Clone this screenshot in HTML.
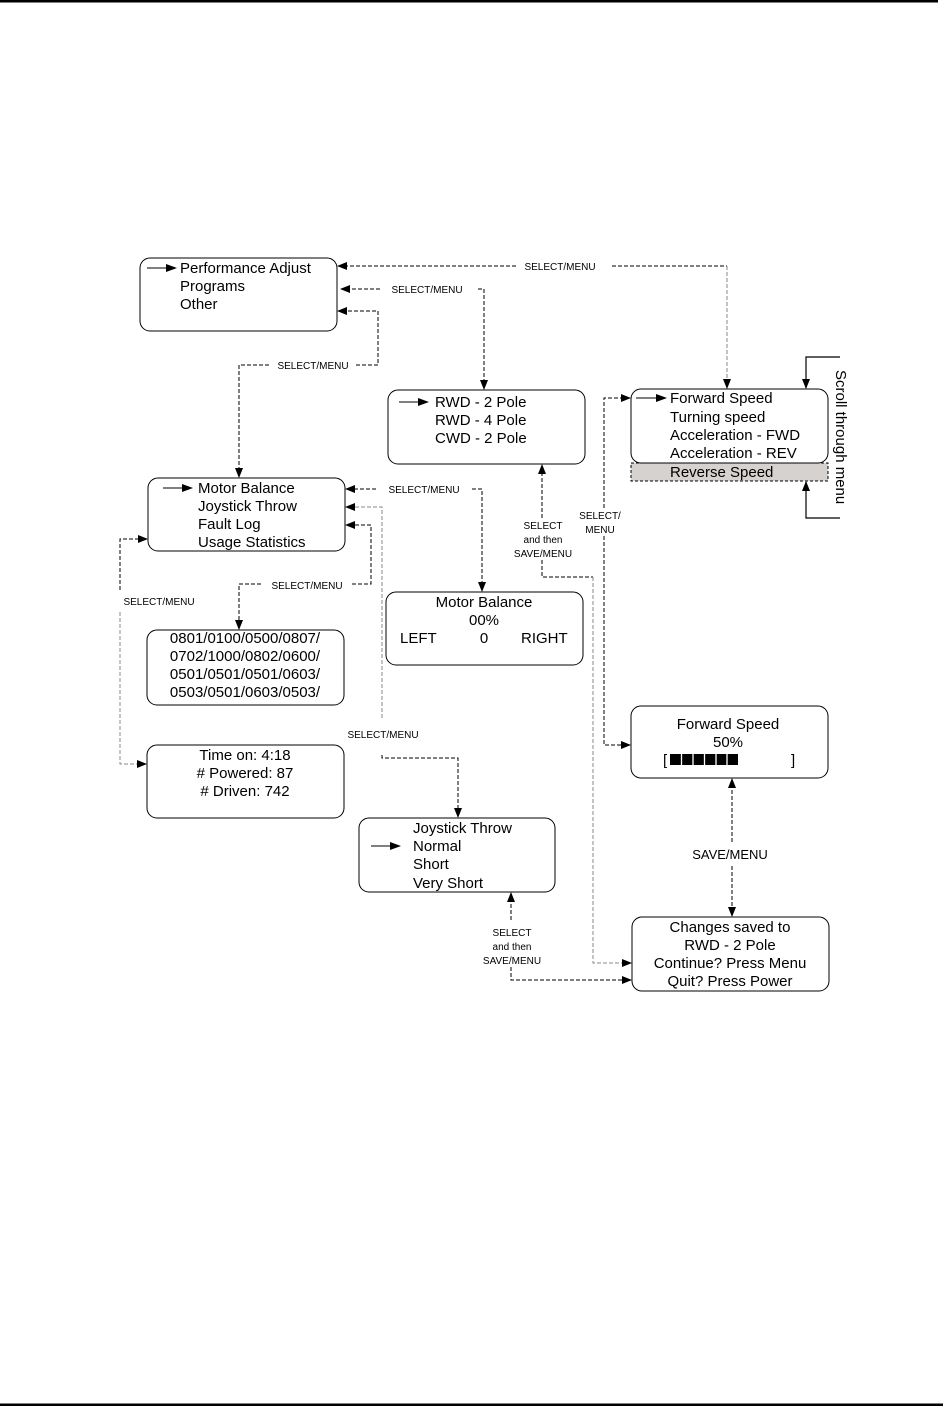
<!DOCTYPE html>
<html><head><meta charset="utf-8"><style>
html,body{margin:0;padding:0;background:#fff}
svg{display:block}
text{font-family:"Liberation Sans",Arial,sans-serif;fill:#000}
.b{font-size:15px}
.s{font-size:10px}
.box{fill:none;stroke:#000;stroke-width:1}
.d{fill:none;stroke:#000;stroke-width:1;stroke-dasharray:4,2}
.g{fill:none;stroke:#888;stroke-width:1;stroke-dasharray:4,2}
.sol{fill:none;stroke:#000;stroke-width:1.2}
</style></head><body>
<svg width="943" height="1406" viewBox="0 0 943 1406" xmlns="http://www.w3.org/2000/svg">
<defs>
<marker id="a" markerWidth="10" markerHeight="8" refX="9" refY="4" orient="auto" markerUnits="userSpaceOnUse"><path d="M0,0 L10,4 L0,8 z" fill="#000"/></marker>
</defs>
<rect x="0" y="0" width="938" height="2.5" fill="#000"/>
<rect x="0" y="1403.5" width="943" height="2.5" fill="#000"/>

<!-- boxes -->
<rect class="box" x="140" y="258" width="197" height="73" rx="10"/>
<rect class="box" x="388" y="390" width="197" height="74" rx="10"/>
<rect x="631" y="463" width="197" height="18" fill="#d6d2cf" stroke="#000" stroke-dasharray="3,2"/>
<rect class="box" x="631" y="389" width="197" height="74" rx="10" style="fill:#fff"/>
<rect class="box" x="148" y="478" width="197" height="73" rx="10"/>
<rect class="box" x="386" y="592" width="197" height="73" rx="10"/>
<rect class="box" x="147" y="630" width="197" height="75" rx="10"/>
<rect class="box" x="147" y="745" width="197" height="73" rx="10"/>
<rect class="box" x="631" y="706" width="197" height="72" rx="10"/>
<rect class="box" x="359" y="818" width="196" height="74" rx="10"/>
<rect class="box" x="632" y="917" width="197" height="74" rx="10"/>

<!-- box text -->
<g class="b">
<line x1="147" y1="268" x2="172" y2="268" stroke="#000"/><path d="M166,264 L177,268 L166,272z"/>
<text x="180" y="273">Performance Adjust</text>
<text x="180" y="291">Programs</text>
<text x="180" y="309">Other</text>

<line x1="399" y1="402" x2="420" y2="402" stroke="#000"/><path d="M418,398 L429,402 L418,406z"/>
<text x="435" y="407">RWD - 2 Pole</text>
<text x="435" y="425">RWD - 4 Pole</text>
<text x="435" y="443">CWD - 2 Pole</text>

<line x1="636" y1="398" x2="660" y2="398" stroke="#000"/><path d="M656,394 L667,398 L656,402z"/>
<text x="670" y="403">Forward Speed</text>
<text x="670" y="422">Turning speed</text>
<text x="670" y="440">Acceleration - FWD</text>
<text x="670" y="458">Acceleration - REV</text>
<text x="670" y="477">Reverse Speed</text>

<line x1="163" y1="488" x2="185" y2="488" stroke="#000"/><path d="M182,484 L193,488 L182,492z"/>
<text x="198" y="493">Motor Balance</text>
<text x="198" y="511">Joystick Throw</text>
<text x="198" y="529">Fault Log</text>
<text x="198" y="547">Usage Statistics</text>

<text x="484" y="607" text-anchor="middle">Motor Balance</text>
<text x="484" y="625" text-anchor="middle">00%</text>
<text x="400" y="643">LEFT</text>
<text x="484" y="643" text-anchor="middle">0</text>
<text x="521" y="643">RIGHT</text>

<text x="245" y="643" text-anchor="middle">0801/0100/0500/0807/</text>
<text x="245" y="661" text-anchor="middle">0702/1000/0802/0600/</text>
<text x="245" y="679" text-anchor="middle">0501/0501/0501/0603/</text>
<text x="245" y="697" text-anchor="middle">0503/0501/0603/0503/</text>

<text x="245" y="760" text-anchor="middle">Time on:  4:18</text>
<text x="245" y="778" text-anchor="middle"># Powered: 87</text>
<text x="245" y="796" text-anchor="middle"># Driven: 742</text>

<text x="728" y="729" text-anchor="middle">Forward Speed</text>
<text x="728" y="747" text-anchor="middle">50%</text>
<text x="663" y="765">[</text>
<rect x="670" y="754" width="68" height="11" fill="#000"/>
<g stroke="#fff" stroke-width="1.3"><line x1="681.5" y1="754" x2="681.5" y2="765"/><line x1="693" y1="754" x2="693" y2="765"/><line x1="704.5" y1="754" x2="704.5" y2="765"/><line x1="716" y1="754" x2="716" y2="765"/><line x1="727" y1="754" x2="727" y2="765"/></g>
<text x="791" y="765">]</text>

<line x1="371" y1="846" x2="394" y2="846" stroke="#000"/><path d="M390,842 L401,846 L390,850z"/>
<text x="413" y="833">Joystick Throw</text>
<text x="413" y="851">Normal</text>
<text x="413" y="869">Short</text>
<text x="413" y="888">Very Short</text>

<text x="730" y="932" text-anchor="middle">Changes saved to</text>
<text x="730" y="950" text-anchor="middle">RWD - 2 Pole</text>
<text x="730" y="968" text-anchor="middle">Continue? Press Menu</text>
<text x="730" y="986" text-anchor="middle">Quit? Press Power</text>
</g>

<!-- connectors -->
<path class="d" d="M516,266 H338" marker-end="url(#a)"/>
<path class="d" d="M612,266 H727"/><path class="g" d="M727,266 V388" marker-end="url(#a)"/>
<text class="s" x="560" y="270" text-anchor="middle">SELECT/MENU</text>

<path class="d" d="M380,289 H341" marker-end="url(#a)"/>
<path class="d" d="M478,289 H484 V389" marker-end="url(#a)"/>
<text class="s" x="427" y="293" text-anchor="middle">SELECT/MENU</text>

<path class="d" d="M356,365 H378 V311 H338" marker-end="url(#a)"/>
<path class="d" d="M269,365 H239 V477" marker-end="url(#a)"/>
<text class="s" x="313" y="369" text-anchor="middle">SELECT/MENU</text>

<path class="d" d="M376,489 H346" marker-end="url(#a)"/>
<path class="d" d="M472,489 H482 V591" marker-end="url(#a)"/>
<text class="s" x="424" y="493" text-anchor="middle">SELECT/MENU</text>

<path class="g" d="M382,718 V507 H346" marker-end="url(#a)"/>
<path class="d" d="M382,755 V758 H458 V817" marker-end="url(#a)"/>
<text class="s" x="383" y="738" text-anchor="middle">SELECT/MENU</text>

<path class="d" d="M352,584 H371 V525 H346" marker-end="url(#a)"/>
<path class="d" d="M261,584 H239 V629" marker-end="url(#a)"/>
<text class="s" x="307" y="589" text-anchor="middle">SELECT/MENU</text>

<path class="d" d="M120,590 V539 H147" marker-end="url(#a)"/>
<path class="g" d="M120,612 V764 H146" marker-end="url(#a)"/>
<text class="s" x="159" y="605" text-anchor="middle">SELECT/MENU</text>

<path class="d" d="M542,518 V465" marker-end="url(#a)"/>
<path class="d" d="M542,560 V577 H593"/>
<path class="g" d="M593,577 V963 H631" marker-end="url(#a)"/>
<text class="s" x="543" y="529" text-anchor="middle">SELECT</text>
<text class="s" x="543" y="543" text-anchor="middle">and then</text>
<text class="s" x="543" y="557" text-anchor="middle">SAVE/MENU</text>

<path class="d" d="M604,508 V398 H630" marker-end="url(#a)"/>
<path class="d" d="M604,536 V745 H630" marker-end="url(#a)"/>
<text class="s" x="600" y="519" text-anchor="middle">SELECT/</text>
<text class="s" x="600" y="533" text-anchor="middle">MENU</text>

<path class="d" d="M732,842 V779" marker-end="url(#a)"/>
<path class="d" d="M732,866 V916" marker-end="url(#a)"/>
<text x="730" y="859" text-anchor="middle" style="font-size:13px">SAVE/MENU</text>

<path class="d" d="M511,920 V893" marker-end="url(#a)"/>
<path class="d" d="M511,967 V980 H631" marker-end="url(#a)"/>
<text class="s" x="512" y="936" text-anchor="middle">SELECT</text>
<text class="s" x="512" y="950" text-anchor="middle">and then</text>
<text class="s" x="512" y="964" text-anchor="middle">SAVE/MENU</text>

<path class="sol" d="M840,357 H806 V388" marker-end="url(#a)"/>
<path class="sol" d="M840,518 H806 V482" marker-end="url(#a)"/>
<text class="b" transform="translate(836,370) rotate(90)">Scroll through menu</text>
</svg>
</body></html>
